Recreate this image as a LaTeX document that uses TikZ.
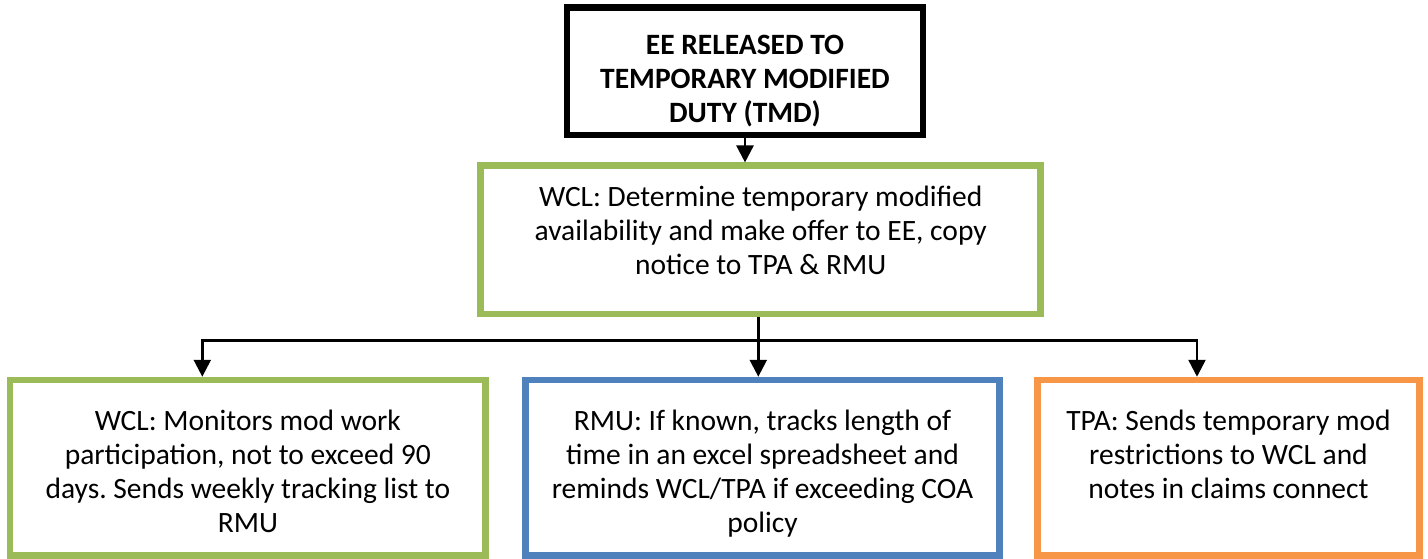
\documentclass[tikz,border=0pt]{standalone}
\usepackage{fontspec}
\setmainfont{Carlito}
\usepackage{xcolor}
\usetikzlibrary{arrows.meta}
\frenchspacing

\definecolor{wclgreen}{HTML}{9BBB59}
\definecolor{rmublue}{HTML}{4F81BD}
\definecolor{tpaorange}{HTML}{F79646}

\tikzset{
    box/.style={draw, line width=6.5pt, inner sep=0pt, text=black,
        font=\fontsize{29.5}{34}\selectfont},
    arr/.style={line width=2.5pt, -{Triangle[length=17pt,width=17pt]}},
}
\newcommand{\celltext}[3]{\parbox[c][#2][t]{#1}{\centering\strut #3}}

\begin{document}
\begin{tikzpicture}[x=1pt, y=-1pt]
        \useasboundingbox (0, 0) rectangle (1428, 559);

        \node[box, draw=black, minimum width=356pt, minimum height=127.5pt] (release) at (745, 71.25)
            {\celltext{345pt}{81pt}{\bfseries EE RELEASED TO\\TEMPORARY MODIFIED\\DUTY (TMD)}};
        \node[box, draw=wclgreen, minimum width=560pt, minimum height=148.3pt] (offer) at (760.7, 239.85)
            {\celltext{545pt}{114pt}{WCL: Determine temporary modified\\availability and make offer to EE, copy\\notice to TPA \& RMU}};

        \node[box, draw=wclgreen, minimum width=475.7pt, minimum height=175.5pt] (monitor) at (247.85, 467.75)
            {\celltext{465pt}{123pt}{WCL: Monitors mod work\\participation, not to exceed 90\\days. Sends weekly tracking list to\\RMU}};
        \node[box, draw=rmublue, minimum width=473.6pt, minimum height=175.5pt] (track) at (762.5, 467.75)
            {\celltext{465pt}{123pt}{RMU: If known, tracks length of\\time in an excel spreadsheet and\\reminds WCL/TPA if exceeding COA\\policy}};
        \node[box, draw=tpaorange, minimum width=382.4pt, minimum height=175.5pt] (notes) at (1228.5, 467.75)
            {\celltext{375pt}{123pt}{TPA: Sends temporary mod\\restrictions to WCL and\\notes in claims connect}};

        \coordinate (split) at (758.3, 340.7);
        \coordinate (lft) at (202.3, 340.7);
        \coordinate (rgt) at (1197, 340.7);

        \draw[arr] (release.south) -- (release.south |- offer.north);
        \draw[arr] (offer.south -| split) -- (split |- track.north);
        \draw[arr] (split) -- (lft) -- (lft |- monitor.north);
        \draw[arr] (split) -- (rgt) -- (rgt |- notes.north);
    \end{tikzpicture}
\end{document}
